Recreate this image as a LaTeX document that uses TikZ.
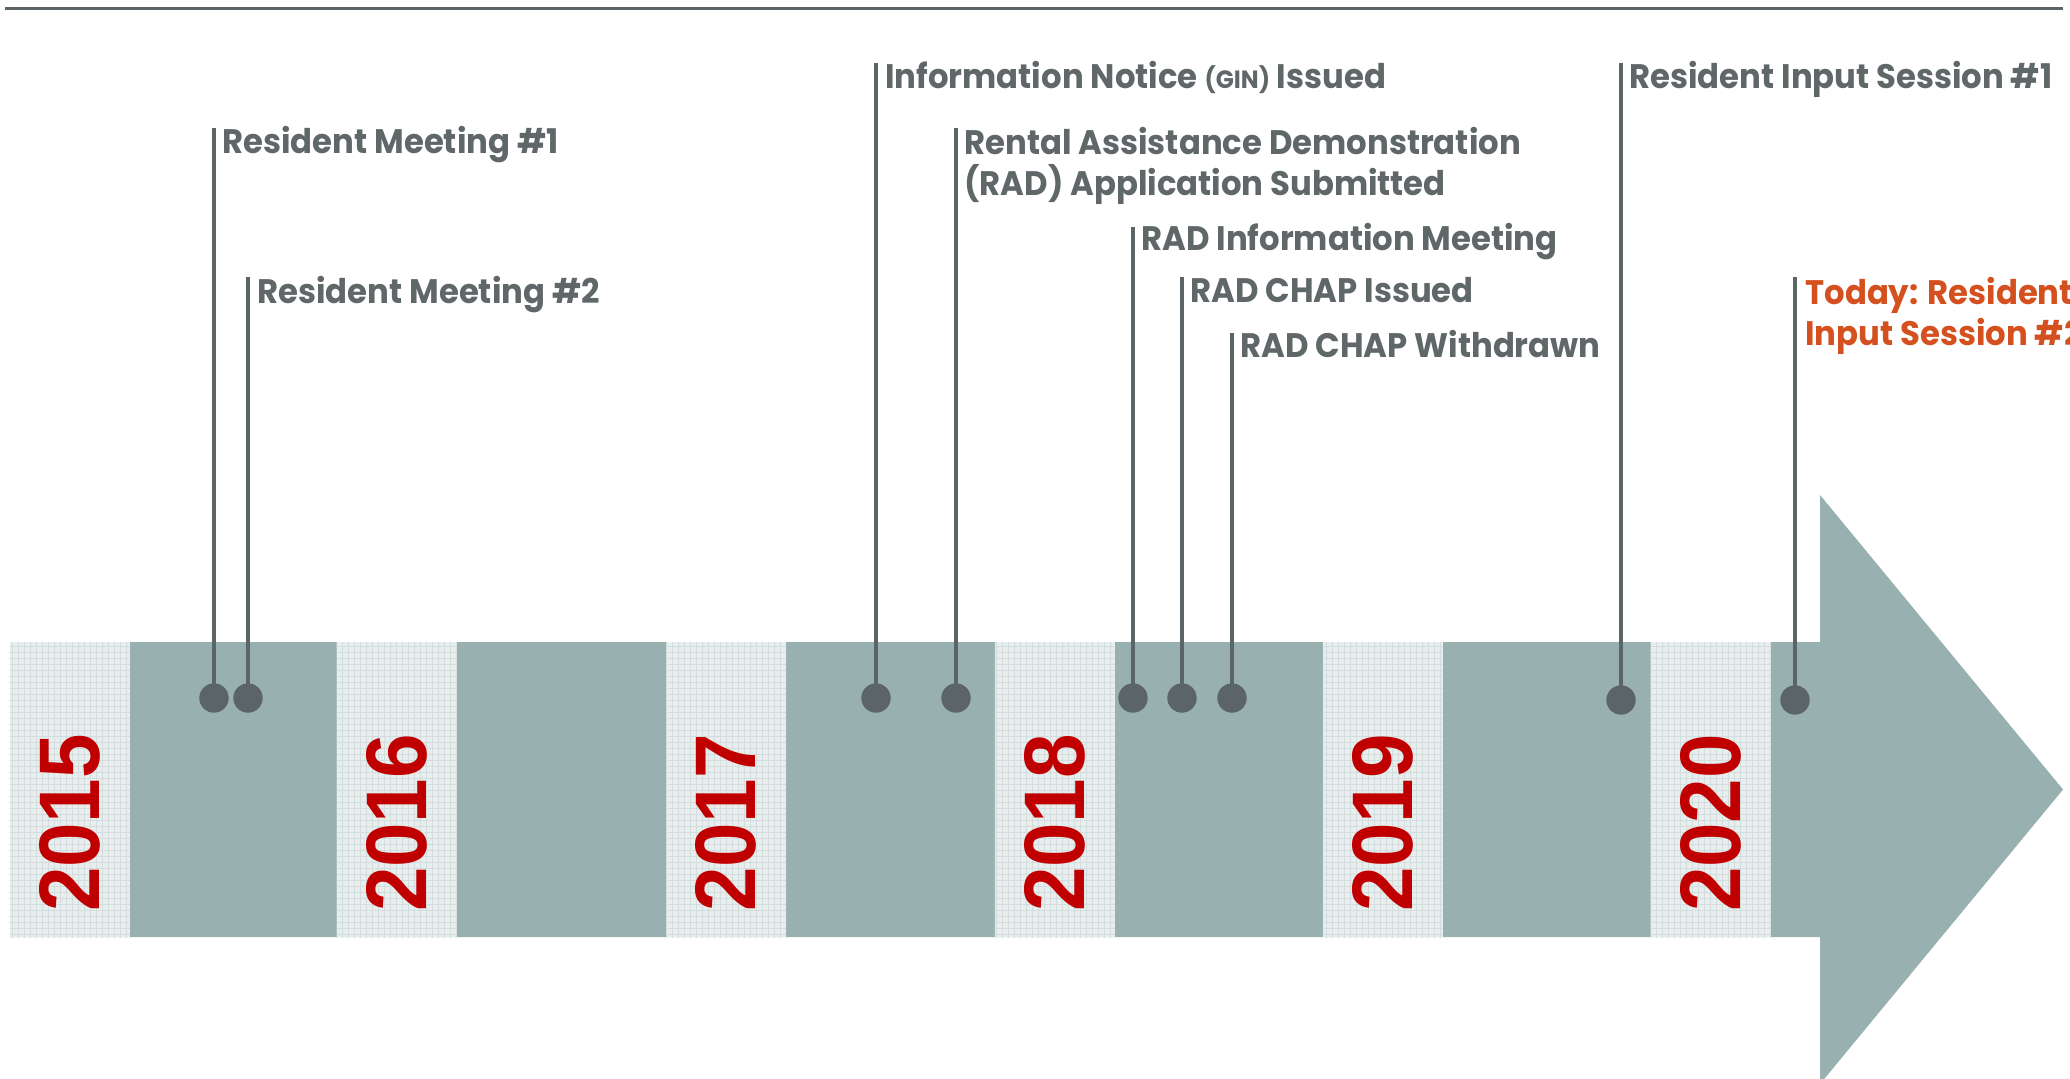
\documentclass[tikz,border=0pt]{standalone}
\usepackage{fontspec}
\newfontfamily\eventfont{Poppins}[FakeStretch=0.95]
\newfontfamily\yearfont{Liberation Sans}[FakeStretch=0.93]
\usetikzlibrary{positioning, patterns}
\definecolor{bandgreen}{HTML}{98B1B0}
\definecolor{stemgray}{HTML}{5B6466}
\definecolor{labelgray}{HTML}{5F6769}
\definecolor{yearred}{HTML}{C00000}
\definecolor{todayorange}{HTML}{D5501F}
\definecolor{yearpaper}{HTML}{E8EEEE}
\definecolor{yeargrid}{HTML}{D3DDDD}

\begin{document}
\begin{tikzpicture}[x=0.5pt, y=-0.5pt,
    % Styles
    year box/.style={fill=yearpaper, postaction={pattern=grid, pattern color=yeargrid}, minimum width=60pt, minimum height=147.5pt, inner sep=0},
    year label/.style={rotate=90, inner sep=0, font=\yearfont\bfseries\fontsize{43}{43}\selectfont, text=yearred},
    event dot/.style={circle, fill=stemgray, minimum size=14.7pt, inner sep=0},
    stem/.style={stemgray, line width=2.25pt},
    event label/.style={anchor=base west, inner sep=0, align=left, font=\eventfont\bfseries\fontsize{17}{20.5}\selectfont, text=labelgray},
    today label/.style={event label, text=todayorange},
]
    \useasboundingbox (0,0) rectangle (2070,1078);

    % Top rule
    \draw[stemgray, line width=1.5pt] (5,8) -- (2063,8);

    % Band with the arrow head
    \fill[bandgreen] (10,642) -- (1820,642) -- (1820,495) -- (2063,789.5)
        -- (1820,1084) -- (1820,937) -- (10,937) -- cycle;

    % Year boxes - one per year along the band
    \node[year box] (y2015) at (69.5,789.5) {};
    \node[year box] (y2016) at (396.5,789.5) {};
    \node[year box] (y2017) at (726,789.5) {};
    \node[year box] (y2018) at (1054.5,789.5) {};
    \node[year box] (y2019) at (1382.5,789.5) {};
    \node[year box] (y2020) at (1710.5,789.5) {};

    % Year labels - rotated, a little below the box centre
    \node[year label] (t2015) at ([yshift=-16.75pt]y2015.center) {2015};
    \node[year label] (t2016) at ([yshift=-16.75pt]y2016.center) {2016};
    \node[year label] (t2017) at ([yshift=-16.75pt]y2017.center) {2017};
    \node[year label] (t2018) at ([yshift=-16.75pt]y2018.center) {2018};
    \node[year label] (t2019) at ([yshift=-16.75pt]y2019.center) {2019};
    \node[year label] (t2020) at ([yshift=-16.75pt]y2020.center) {2020};

    % Event dots on the band
    \node[event dot] (meet1) at (214,698) {};
    \node[event dot] (meet2) at (248,698) {};
    \node[event dot] (gin) at (876,698) {};
    \node[event dot] (radapp) at (956,698) {};
    \node[event dot] (radinfo) at (1133,698) {};
    \node[event dot] (chapin) at (1182,698) {};
    \node[event dot] (chapout) at (1232,698) {};
    \node[event dot] (input1) at (1621,700) {};
    \node[event dot] (input2) at (1795,700) {};

    % Stem tops
    \coordinate (meet1 top) at (214,128);
    \coordinate (meet2 top) at (248,277);
    \coordinate (gin top) at (876,63);
    \coordinate (radapp top) at (956,128);
    \coordinate (radinfo top) at (1133,227);
    \coordinate (chapin top) at (1182,277);
    \coordinate (chapout top) at (1232,333);
    \coordinate (input1 top) at (1621,63);
    \coordinate (input2 top) at (1795,277);

    % Stems - dot up to its label
    \draw[stem] (meet1.center) -- (meet1 top);
    \draw[stem] (meet2.center) -- (meet2 top);
    \draw[stem] (gin.center) -- (gin top);
    \draw[stem] (radapp.center) -- (radapp top);
    \draw[stem] (radinfo.center) -- (radinfo top);
    \draw[stem] (chapin.center) -- (chapin top);
    \draw[stem] (chapout.center) -- (chapout top);
    \draw[stem] (input1.center) -- (input1 top);
    \draw[stem] (input2.center) -- (input2 top);

    % Event labels - baseline (of the last line) below each stem top
    \node[event label] (meet1 text) at (222,153) {Resident Meeting \#1};
    \node[event label] (meet2 text) at (257,303) {Resident Meeting \#2};
    \node[event label] (gin text) at (885,88) {Information Notice {\fontsize{12.5}{12.5}\selectfont(GIN)} Issued};
    \node[event label] (radapp text) at (964,195) {Rental Assistance Demonstration\\(RAD) Application Submitted};
    \node[event label] (radinfo text) at (1141,250) {RAD Information Meeting};
    \node[event label] (chapin text) at (1190,302) {RAD CHAP Issued};
    \node[event label] (chapout text) at (1240,357) {RAD CHAP Withdrawn};
    \node[event label] (input1 text) at (1629,88) {Resident Input Session \#1};
    \node[today label] (input2 text) at (1805,345) {Today: Resident\\Input Session \#2};
\end{tikzpicture}
\end{document}
